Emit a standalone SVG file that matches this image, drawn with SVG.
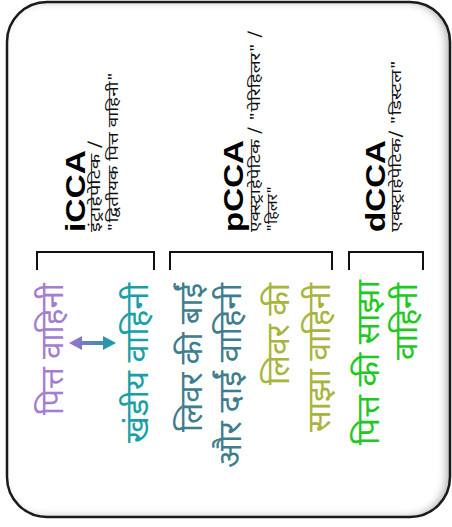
<svg xmlns="http://www.w3.org/2000/svg" width="452" height="527" viewBox="0 0 452 527">
<defs>
<style>
.hd{font-family:"Liberation Sans",Arial,sans-serif;font-weight:bold;font-size:28px;fill:#000}
.sub{font-family:"Noto Sans Devanagari","Noto Sans","Lohit Devanagari",sans-serif;font-size:15px;fill:#111}
.lbl{font-family:"Noto Sans Devanagari","Noto Sans","Lohit Devanagari",sans-serif;font-size:32px;text-anchor:end}
.br{fill:none;stroke:#111;stroke-width:2}
</style>
<linearGradient id="ag" gradientUnits="userSpaceOnUse" x1="70" y1="0" x2="115" y2="0">
<stop offset="0" stop-color="#a06fd0"/><stop offset="1" stop-color="#0e9ea4"/>
</linearGradient>
<filter id="inner" x="-5%" y="-5%" width="110%" height="110%">
<feFlood flood-color="#000" flood-opacity="0.6"/>
<feComposite in2="SourceAlpha" operator="out"/>
<feGaussianBlur stdDeviation="4"/>
<feOffset dx="-4" dy="0"/>
<feComposite in2="SourceAlpha" operator="in" result="sh"/>
<feMerge><feMergeNode in="SourceGraphic"/><feMergeNode in="sh"/></feMerge>
</filter>
</defs>
<rect x="7" y="2" width="443" height="515" rx="40" fill="#fff" filter="url(#inner)"/>
<rect x="7" y="2" width="443" height="515" rx="40" fill="none" stroke="#1a1a1a" stroke-width="2.5"/>

<g id="iCCA">
<text class="hd" transform="translate(85,232) rotate(-90)" textLength="82" lengthAdjust="spacingAndGlyphs">iCCA</text>
<text class="sub" transform="translate(100,232) rotate(-90)" textLength="92" lengthAdjust="spacingAndGlyphs">इंट्राहेपेटिक /</text>
<text class="sub" transform="translate(118,232) rotate(-90)" textLength="160" lengthAdjust="spacingAndGlyphs">"द्वितीयक पित्त वाहिनी"</text>
</g>
<g id="pCCA">
<text class="hd" transform="translate(243,232) rotate(-90)" textLength="92" lengthAdjust="spacingAndGlyphs">pCCA</text>
<text class="sub" transform="translate(260,232) rotate(-90)" textLength="202" lengthAdjust="spacingAndGlyphs">एक्स्ट्राहेपेटिक / "पेरिहिलर" /</text>
<text class="sub" transform="translate(277,232) rotate(-90)" textLength="46" lengthAdjust="spacingAndGlyphs">"हिलर"</text>
</g>
<g id="dCCA">
<text class="hd" transform="translate(385,232) rotate(-90)" textLength="92" lengthAdjust="spacingAndGlyphs">dCCA</text>
<text class="sub" transform="translate(401,232) rotate(-90)" textLength="172" lengthAdjust="spacingAndGlyphs">एक्स्ट्राहेपेटिक/ "डिस्टल"</text>
</g>

<g id="brackets">
<path class="br" d="M37,270 V252 H154 V270"/>
<path class="br" d="M170,270 V252 H332 V270"/>
<path class="br" d="M349,270 V252 H423 V270"/>
</g>

<g id="bile-duct">
<text class="lbl" fill="#a47dcf" transform="translate(63,283) rotate(-90)" textLength="132" lengthAdjust="spacingAndGlyphs">पित्त वाहिनी</text>
</g>
<g id="segmental-duct">
<text class="lbl" fill="#18a0a6" transform="translate(148,283) rotate(-90)" textLength="160" lengthAdjust="spacingAndGlyphs">खंडीय वाहिनी</text>
</g>
<g id="left-right-hepatic">
<text class="lbl" fill="#3d7d8c" transform="translate(202,283) rotate(-90)" textLength="149" lengthAdjust="spacingAndGlyphs">लिवर की बाईं</text>
<text class="lbl" fill="#3d7d8c" transform="translate(241,283) rotate(-90)" textLength="185" lengthAdjust="spacingAndGlyphs">और दाईं वाहिनी</text>
</g>
<g id="common-hepatic">
<text class="lbl" fill="#a8b43a" transform="translate(289,283) rotate(-90)" textLength="102" lengthAdjust="spacingAndGlyphs">लिवर की</text>
<text class="lbl" fill="#a8b43a" transform="translate(330,283) rotate(-90)" textLength="149" lengthAdjust="spacingAndGlyphs">साझा वाहिनी</text>
</g>
<g id="common-bile">
<text class="lbl" fill="#22c822" transform="translate(379,280) rotate(-90)" textLength="165" lengthAdjust="spacingAndGlyphs">पित्त की साझा</text>
<text class="lbl" fill="#22c822" transform="translate(417,283) rotate(-90)" textLength="77" lengthAdjust="spacingAndGlyphs">वाहिनी</text>
</g>

<g id="connectors">
<line x1="80" y1="343" x2="105" y2="343" stroke="url(#ag)" stroke-width="4"/>
<polygon points="69,343 82,336 82,350" fill="url(#ag)"/>
<polygon points="116,343 103,336 103,350" fill="url(#ag)"/>
</g>
</svg>
